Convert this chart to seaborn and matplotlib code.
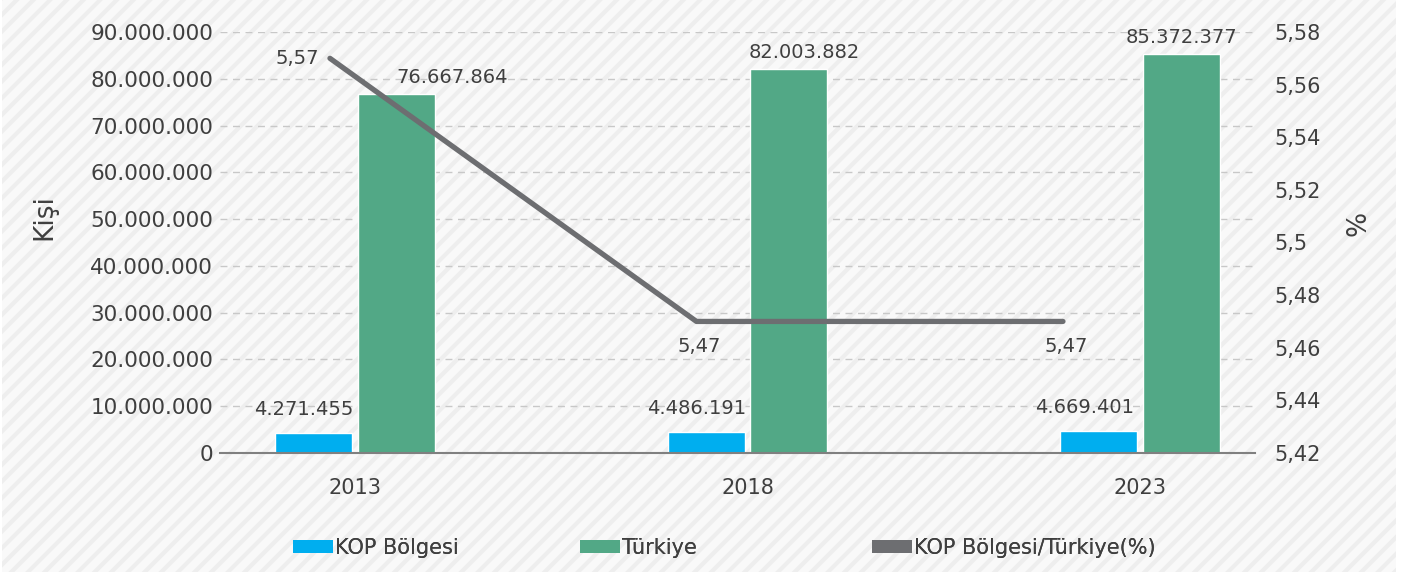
import numpy as np
import pandas as pd
import matplotlib
matplotlib.use("Agg")
import matplotlib.pyplot as plt
import seaborn as sns
from matplotlib.patches import Rectangle, Patch
from matplotlib.ticker import FuncFormatter, FixedLocator

# ---------------- data ----------------
years = ["2013", "2018", "2023"]
kop_values = [4271455, 4486191, 4669401]
turkiye_values = [76667864, 82003882, 85372377]
ratio_values = [5.57, 5.47, 5.47]
series_names = ["KOP Bölgesi", "Türkiye"]
ratio_name = "KOP Bölgesi/Türkiye(%)"
left_ticks = [0, 10000000, 20000000, 30000000, 40000000, 50000000,
              60000000, 70000000, 80000000, 90000000]
right_ticks = [5.42, 5.44, 5.46, 5.48, 5.50, 5.52, 5.54, 5.56, 5.58]
left_label = "Kişi"
right_label = "%"

# ---------------- style ----------------
BLUE = "#00AEEF"
GREEN = "#52A886"
GRAY = "#6D6E71"
TEXT = "#3F3F3F"

sns.set_theme(style="white")
plt.rcParams["font.family"] = ["DejaVu Sans"]
plt.rcParams["hatch.linewidth"] = 3.0


def thousands(v, _=None):
    return f"{int(round(v)):,}".replace(",", ".")


def comma(v, _=None):
    return f"{v:g}".replace(".", ",")


W, H = 1411, 577
fig = plt.figure(figsize=(W / 100, H / 100), dpi=100)
fig.patch.set_facecolor("white")
bg = Rectangle((2 / W, 5 / H), 1394 / W, 1 - 5 / H, transform=fig.transFigure,
               facecolor="#F9F9F9", edgecolor="#EEEEEE", hatch="//", lw=0, zorder=-10)
fig.patches.append(bg)

pos = [220 / W, 1 - 453 / H, (1255 - 220) / W, (453 - 32) / H]
ax = fig.add_axes(pos)
ax.set_facecolor("none")

df = pd.DataFrame({
    "Yıl": years * 2,
    "Seri": [series_names[0]] * len(years) + [series_names[1]] * len(years),
    "Değer": kop_values + turkiye_values,
})
sns.barplot(data=df, x="Yıl", y="Değer", hue="Seri", hue_order=series_names,
            palette=[BLUE, GREEN], width=0.42, gap=0.07, saturation=1,
            legend=False, ax=ax, zorder=3)

ax.set_xlim(-0.344, 2.293)
ax.set_ylim(0, 90000000)
ax.yaxis.set_major_locator(FixedLocator(left_ticks))
ax.yaxis.set_major_formatter(FuncFormatter(thousands))
ax.yaxis.grid(True, linestyle=(0, (5, 4)), color="#C8C8C8", lw=1.0)
ax.xaxis.grid(False)
ax.set_axisbelow(True)
for s in ["left", "right", "top"]:
    ax.spines[s].set_visible(False)
ax.spines["bottom"].set_color("#808080")
ax.spines["bottom"].set_linewidth(1.5)
ax.spines["bottom"].set_zorder(4)
ax.tick_params(axis="y", length=0, pad=5, labelsize=15.5, labelcolor=TEXT)
ax.tick_params(axis="x", length=0, pad=18, labelsize=15, labelcolor=TEXT)
ax.set_xlabel("")
ax.set_ylabel(left_label, fontsize=19, color=TEXT)
ax.yaxis.set_label_coords(-0.157, 0.56)

# bar value labels (offsets in points, per series and bar)
label_dx = [[-7, -7, -10], [40, 11, 0]]
label_dy = [10, 5]
for ci, cont in enumerate(ax.containers):
    vals = kop_values if ci == 0 else turkiye_values
    for bi, (rect, v) in enumerate(zip(cont, vals)):
        x = rect.get_x() + rect.get_width() / 2
        ax.annotate(thousands(v), (x, rect.get_height()),
                    xytext=(label_dx[ci][bi], label_dy[ci]), textcoords="offset points",
                    ha="center", va="bottom", fontsize=14, color=TEXT, zorder=5)

# line on its own overlay axes (right scale)
ax3 = fig.add_axes(pos)
ax3.set_facecolor("none")
xs = np.arange(len(years))
sns.lineplot(x=xs, y=ratio_values, ax=ax3, color=GRAY, lw=3.8, zorder=6)
ax3.set_xlim(-0.300, 2.524)
ax3.set_ylim(5.42, 5.58)
ax3.yaxis.set_major_locator(FixedLocator(right_ticks))
ax3.yaxis.set_major_formatter(FuncFormatter(comma))
ax3.yaxis.tick_right()
ax3.yaxis.set_label_position("right")
ax3.tick_params(axis="y", length=0, pad=14, labelsize=15, labelcolor=TEXT)
ax3.set_xticks([])
ax3.grid(False)
for s in ax3.spines.values():
    s.set_visible(False)
ax3.set_ylabel(right_label, fontsize=19, color=TEXT)
ax3.yaxis.set_label_coords(1.087, 0.546)

for i, v in enumerate(ratio_values):
    if i == 0:
        ax3.annotate(comma(v), (xs[i], v), xytext=(-8, 0), textcoords="offset points",
                     ha="right", va="center", fontsize=14, color=TEXT)
    else:
        ax3.annotate(comma(v), (xs[i], v), xytext=(2, -11), textcoords="offset points",
                     ha="center", va="top", fontsize=14, color=TEXT)

# legend: three entries at fixed positions
legend_x = [293, 580, 872]
legend_colors = [BLUE, GREEN, GRAY]
legend_labels = series_names + [ratio_name]
for lx, c, lab in zip(legend_x, legend_colors, legend_labels):
    leg = fig.legend(handles=[Patch(facecolor=c, edgecolor="none")], labels=[lab],
                     loc="center left", bbox_to_anchor=(lx / W, 1 - 548 / H),
                     frameon=False, borderpad=0, borderaxespad=0,
                     handlelength=1.9, handleheight=0.55, handletextpad=0.1,
                     fontsize=15, labelcolor=TEXT)
    fig.add_artist(leg)

fig.savefig("out.png", dpi=100, facecolor=fig.get_facecolor())
